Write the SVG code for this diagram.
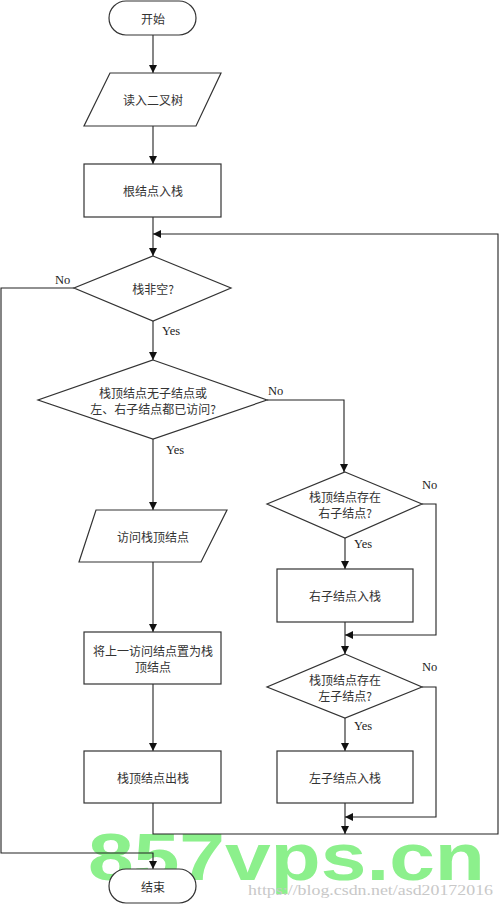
<svg xmlns="http://www.w3.org/2000/svg" width="500" height="905" viewBox="0 0 500 905">
<style>
.s{fill:#fff;stroke:#333;stroke-width:1.2}
.t{font-family:"Noto Sans CJK SC","Noto Sans",sans-serif;font-size:12px;fill:#333;text-anchor:middle;dominant-baseline:central}
.l{font-family:"Liberation Serif",serif;font-size:12.5px;fill:#222}
.c{fill:none;stroke:#222;stroke-width:1.1}
</style>
<defs>
<marker id="a" markerUnits="userSpaceOnUse" markerWidth="9" markerHeight="9" refX="8" refY="4" orient="auto"><path d="M0,0 L8,4 L0,8 z" fill="#111"/></marker>
</defs>
<rect width="500" height="905" fill="#fff"/>
<g id="watermark">
<text x="88" y="880" font-family="Liberation Sans,Arial,sans-serif" font-weight="bold" font-size="67" fill="#8cf08c" textLength="397" lengthAdjust="spacingAndGlyphs">857vps.cn</text>
<text x="248" y="895" font-family="Liberation Serif,serif" font-size="14" fill="#c8c8c8" textLength="245" lengthAdjust="spacingAndGlyphs">https://blog.csdn.net/asd20172016</text>
</g>
<g id="connectors">
<path class="c" d="M153,35 V73" marker-end="url(#a)"/>
<path class="c" d="M153,126 V164" marker-end="url(#a)"/>
<path class="c" d="M153,217 V256" marker-end="url(#a)"/>
<path class="c" d="M153,803 V834 H498 V234 H153" marker-end="url(#a)"/>
<path class="c" d="M74,288 H1 V853 H153 V869" marker-end="url(#a)"/>
<path class="c" d="M153,321 V360" marker-end="url(#a)"/>
<path class="c" d="M267,400 H344 V472" marker-end="url(#a)"/>
<path class="c" d="M153,439 V510" marker-end="url(#a)"/>
<path class="c" d="M153,562 V632" marker-end="url(#a)"/>
<path class="c" d="M153,684 V751" marker-end="url(#a)"/>
<path class="c" d="M345,538 V569" marker-end="url(#a)"/>
<path class="c" d="M345,622 V654" marker-end="url(#a)"/>
<path class="c" d="M422,504 H436 V635 H345" marker-end="url(#a)"/>
<path class="c" d="M345,718 V751" marker-end="url(#a)"/>
<path class="c" d="M422,687 H436 V817 H345" marker-end="url(#a)"/>
<path class="c" d="M345,803 V834" marker-end="url(#a)"/>
<text class="l" x="55" y="284">No</text>
<text class="l" x="162" y="335">Yes</text>
<text class="l" x="268" y="395">No</text>
<text class="l" x="166" y="454">Yes</text>
<text class="l" x="422" y="489">No</text>
<text class="l" x="354" y="548">Yes</text>
<text class="l" x="422" y="671">No</text>
<text class="l" x="354" y="730">Yes</text>
</g>
<g id="start"><rect class="s" x="109" y="1" width="87" height="34" rx="17"/><text class="t" x="153" y="18">开始</text></g>
<g id="read"><polygon class="s" points="110,73 221,73 196,126 84,126"/><text class="t" x="153" y="99">读入二叉树</text></g>
<g id="push-root"><rect class="s" x="84" y="164" width="137" height="53"/><text class="t" x="153" y="190">根结点入栈</text></g>
<g id="stack-nonempty"><polygon class="s" points="153,256 231,288 153,321 74,288"/><text class="t" x="153" y="288">栈非空?</text></g>
<g id="visited-check"><polygon class="s" points="153,360 267,400 153,439 38,400"/><text class="t" x="153" y="392">栈顶结点无子结点或</text><text class="t" x="153" y="408">左、右子结点都已访问?</text></g>
<g id="visit"><polygon class="s" points="96,510 227,510 201,562 79,562"/><text class="t" x="153" y="536">访问栈顶结点</text></g>
<g id="set-prev"><rect class="s" x="84" y="632" width="137" height="52"/><text class="t" x="153" y="650">将上一访问结点置为栈</text><text class="t" x="153" y="666">顶结点</text></g>
<g id="pop"><rect class="s" x="84" y="751" width="137" height="52"/><text class="t" x="153" y="777">栈顶结点出栈</text></g>
<g id="has-right"><polygon class="s" points="345,472 422,504 345,538 267,504"/><text class="t" x="345" y="496">栈顶结点存在</text><text class="t" x="345" y="512">右子结点?</text></g>
<g id="push-right"><rect class="s" x="277" y="569" width="136" height="53"/><text class="t" x="345" y="595">右子结点入栈</text></g>
<g id="has-left"><polygon class="s" points="345,654 422,687 345,718 267,687"/><text class="t" x="345" y="679">栈顶结点存在</text><text class="t" x="345" y="695">左子结点?</text></g>
<g id="push-left"><rect class="s" x="277" y="751" width="136" height="52"/><text class="t" x="345" y="777">左子结点入栈</text></g>
<g id="end"><rect class="s" x="109" y="869" width="87" height="34" rx="17"/><text class="t" x="153" y="886">结束</text></g>
</svg>
